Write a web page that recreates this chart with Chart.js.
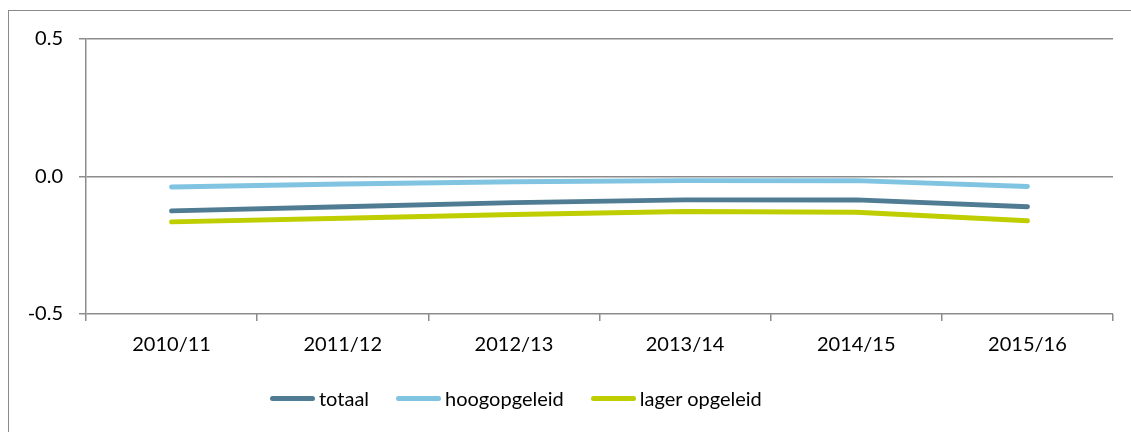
<!DOCTYPE html>
<html>
<head>
<meta charset="utf-8">
<script src="https://cdn.jsdelivr.net/npm/chart.js@4.4.0/dist/chart.umd.min.js"></script>
<style>
  html, body { margin: 0; padding: 0; background: #fff; overflow: hidden; }
  #wrap { position: relative; width: 1131px; height: 432px; overflow: hidden; }
  #frame { position: absolute; left: 8px; top: 10px; width: 1200px; height: 500px;
           border-left: 1.5px solid #8a8a8a; border-top: 1.5px solid #8a8a8a; }
  #legend { position: absolute; left: 270px; top: 386px; display: flex; align-items: center;
            font-family: Lato, "Open Sans", sans-serif; font-size: 20px; color: #000; }
  .item { display: flex; align-items: center; margin-right: 27px; }
  .bar { width: 45px; height: 5px; border-radius: 3px; margin-right: 4px; }
  canvas { position: absolute; left: 0; top: 0; }
</style>
</head>
<body>
<div id="wrap">
  <div id="frame"></div>
  <canvas id="chart" width="1131" height="432"></canvas>
  <div id="legend"></div>
</div>
<script>
// Data
const jaren = ['2010/11', '2011/12', '2012/13', '2013/14', '2014/15', '2015/16'];
const totaal = [-0.125, -0.11, -0.095, -0.085, -0.085, -0.11];
const hoogopgeleid = [-0.038, -0.027, -0.019, -0.015, -0.015, -0.036];
const lagerOpgeleid = [-0.165, -0.152, -0.138, -0.127, -0.13, -0.161];
const yTicks = [-0.5, 0.0, 0.5];

const reeksen = [
    { naam: 'totaal', data: totaal, kleur: '#4f7c93' },
    { naam: 'hoogopgeleid', data: hoogopgeleid, kleur: '#80c4e2' },
    { naam: 'lager opgeleid', data: lagerOpgeleid, kleur: '#bfce00' }
];

const font = { family: 'Lato, "Open Sans", sans-serif', size: 20 };
const gridKleur = '#8c8c8c';

new Chart(document.getElementById('chart'), {
    type: 'line',
    data: {
        labels: jaren,
        datasets: reeksen.map(r => ({
            label: r.naam,
            data: r.data,
            borderColor: r.kleur,
            backgroundColor: r.kleur,
            borderWidth: 5,
            borderCapStyle: 'round',
            borderJoinStyle: 'round',
            pointRadius: 0,
            tension: 0
        }))
    },
    options: {
        responsive: false,
        animation: false,
        layout: { padding: { top: 39, right: 18, left: 0, bottom: 0 } },
        plugins: { legend: { display: false }, tooltip: { enabled: false } },
        scales: {
            x: {
                offset: true,
                grid: { offset: true, drawOnChartArea: false, drawTicks: true, tickLength: 7, color: gridKleur, lineWidth: 1.5 },
                border: { display: false },
                ticks: { color: '#000', font: font, padding: 12, maxRotation: 0 },
                afterFit: s => { s.height = 118; }
            },
            y: {
                min: -0.5,
                max: 0.5,
                afterBuildTicks: s => { s.ticks = yTicks.map(v => ({ value: v })); },
                grid: { color: gridKleur, lineWidth: 1.5, tickLength: 7 },
                border: { display: true, color: gridKleur, width: 1.5 },
                ticks: { color: '#000', font: font, padding: 16, callback: v => Number(v).toFixed(1) },
                afterFit: s => { s.width = 86; }
            }
        }
    }
});

// Legenda
const legend = document.getElementById('legend');
reeksen.forEach(r => {
    const item = document.createElement('div');
    item.className = 'item';
    const bar = document.createElement('span');
    bar.className = 'bar';
    bar.style.background = r.kleur;
    const txt = document.createElement('span');
    txt.textContent = r.naam;
    item.appendChild(bar);
    item.appendChild(txt);
    legend.appendChild(item);
});
</script>
</body>
</html>
